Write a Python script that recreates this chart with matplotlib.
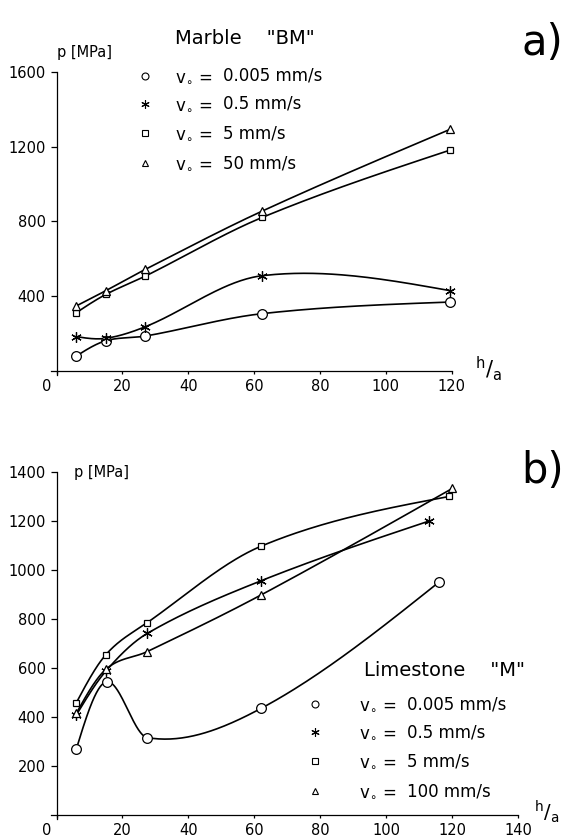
import numpy as np
import matplotlib
matplotlib.use("Agg")
import matplotlib.pyplot as plt
from matplotlib.lines import Line2D

# ---------------- data ----------------
# panel a) Marble "BM"
top_x = [6, 15, 27, 62.5, 119.5]
top_p_0005 = [80, 162, 187, 307, 369]
top_p_05 = [184, 175, 237, 510, 430]
top_p_5 = [312, 410, 508, 822, 1182]
top_p_50 = [348, 430, 544, 856, 1293]
top_speeds = ["0.005 mm/s", "0.5 mm/s", "5 mm/s", "50 mm/s"]

# panel b) Limestone "M"
bot_x_0005 = [6, 15.2, 27.5, 62, 116]
bot_p_0005 = [269, 544, 316, 435, 951]
bot_x_05 = [6, 15, 27.5, 62, 113]
bot_p_05 = [408, 588, 741, 956, 1200]
bot_x_5 = [6, 15, 27.5, 62, 119]
bot_p_5 = [458, 655, 785, 1097, 1300]
bot_x_100 = [6, 15, 27.5, 62, 120]
bot_p_100 = [415, 595, 667, 898, 1333]
bot_speeds = ["0.005 mm/s", "0.5 mm/s", "5 mm/s", "100 mm/s"]

top_xticks = [0, 20, 40, 60, 80, 100, 120]
top_yticks = [400, 800, 1200, 1600]
bot_xticks = [0, 20, 40, 60, 80, 100, 120, 140]
bot_yticks = [200, 400, 600, 800, 1000, 1200, 1400]

plt.rcParams["font.family"] = ["DejaVu Sans"]
plt.rcParams["mathtext.default"] = "regular"

W, H = 563, 838
fig = plt.figure(figsize=(W / 100, H / 100), dpi=100)
fig.patch.set_facecolor("white")


def fx(x):
    return x / W


def fy(y):
    return 1 - y / H


def ftext(x, y, s, **kw):
    kw.setdefault("va", "center")
    kw.setdefault("ha", "left")
    return fig.text(fx(x), fy(y), s, **kw)


def smooth_curve(x, y, n=60):
    """Piecewise cubic Hermite curve with Catmull-Rom type tangents."""
    x = np.asarray(x, float)
    y = np.asarray(y, float)
    m = len(x)
    sec = np.diff(y) / np.diff(x)
    t = np.zeros(m)
    for i in range(1, m - 1):
        t[i] = (y[i + 1] - y[i - 1]) / (x[i + 1] - x[i - 1])
    t[0] = (3 * sec[0] - t[1]) / 2
    t[-1] = (3 * sec[-1] - t[-2]) / 2
    xs_all, ys_all = [], []
    for i in range(m - 1):
        h = x[i + 1] - x[i]
        u = np.linspace(0, 1, n)
        h00 = 2 * u ** 3 - 3 * u ** 2 + 1
        h10 = u ** 3 - 2 * u ** 2 + u
        h01 = -2 * u ** 3 + 3 * u ** 2
        h11 = u ** 3 - u ** 2
        xs_all.append(x[i] + u * h)
        ys_all.append(h00 * y[i] + h10 * h * t[i] + h01 * y[i + 1] + h11 * h * t[i + 1])
    return np.concatenate(xs_all), np.concatenate(ys_all)


ASTER = (6, 2, 0)
styles = [
    dict(marker="o", ms=7, mfc="white"),
    dict(marker=ASTER, ms=7.5),
    dict(marker="s", ms=5, mfc="white"),
    dict(marker="^", ms=5.5, mfc="white"),
]
leg_styles = [
    dict(marker="o", ms=5, mfc="white"),
    dict(marker=ASTER, ms=6),
    dict(marker="s", ms=4, mfc="white"),
    dict(marker="^", ms=4.5, mfc="white"),
]

LW = 1.2
FS_TICK = 10.5
HA_LABEL = r"$\mathregular{^h/_a}$"


def setup_axes(ax, xmax, ymax, xticks, yticks):
    ax.set_xlim(0, xmax)
    ax.set_ylim(0, ymax)
    for s in ("top", "right"):
        ax.spines[s].set_visible(False)
    for s in ("left", "bottom"):
        ax.spines[s].set_linewidth(0.9)
        ax.spines[s].set_color("black")
    ax.spines["bottom"].set_bounds(-1.8, xmax)
    ax.spines["left"].set_bounds(-ymax * 0.0125, ymax)
    ax.set_xticks(xticks)
    ax.set_xticklabels([""] + [str(t) for t in xticks[1:]])
    ax.set_yticks(yticks)
    ax.set_yticklabels([str(t) for t in yticks])
    ax.tick_params(axis="x", direction="out", length=2.5, width=0.9, pad=3,
                   labelsize=FS_TICK)
    ax.tick_params(axis="y", direction="out", length=4.3, width=0.9, pad=3.5,
                   labelsize=FS_TICK)
    ax.patch.set_alpha(0)


def draw_series(ax, xs, ys, st):
    sx, sy = smooth_curve(xs, ys)
    ax.plot(sx, sy, color="black", lw=LW, zorder=2, clip_on=False)
    ax.plot(xs, ys, ls="none", color="black", mec="black", mew=0.9,
            zorder=3, clip_on=False, **st)


# ---------------- panel a ----------------
ax1 = fig.add_axes([fx(56.5), fy(371), (451.7 - 56.5) / W, (371 - 72) / H])
setup_axes(ax1, 120, 1600, top_xticks, top_yticks)
for ys, st in zip([top_p_0005, top_p_05, top_p_5, top_p_50], styles):
    draw_series(ax1, top_x, ys, st)

ftext(46.5, 386, "0", fontsize=FS_TICK, ha="center")
ftext(57, 52, "p [MPa]", fontsize=10.5)
ftext(175, 39, 'Marble    "BM"', fontsize=14)
ftext(521, 55, "a)", fontsize=30, va="baseline")
ftext(475, 369, HA_LABEL, fontsize=15)

for yy, lab, st in zip([76, 104, 133, 163], top_speeds, leg_styles):
    fig.add_artist(Line2D([fx(145)], [fy(yy)], transform=fig.transFigure,
                          ls="none", color="black", mec="black", mew=0.8, **st))
    ftext(175, yy, r"$\mathregular{v_{\circ}}$ =", fontsize=12)
    ftext(223, yy, lab, fontsize=12)

# ---------------- panel b ----------------
ax2 = fig.add_axes([fx(56.5), fy(815), (518.3 - 56.5) / W, (815 - 472) / H])
setup_axes(ax2, 140, 1400, bot_xticks, bot_yticks)
for xs, ys, st in zip([bot_x_0005, bot_x_05, bot_x_5, bot_x_100],
                      [bot_p_0005, bot_p_05, bot_p_5, bot_p_100], styles):
    draw_series(ax2, xs, ys, st)

ftext(46.5, 830, "0", fontsize=FS_TICK, ha="center")
ftext(74, 472, "p [MPa]", fontsize=10.5)
ftext(364, 670, 'Limestone    "M"', fontsize=14)
ftext(521, 483, "b)", fontsize=30, va="baseline")
ftext(534, 812, HA_LABEL, fontsize=14)

for yy, lab, st in zip([704, 732, 761, 791], bot_speeds, leg_styles):
    fig.add_artist(Line2D([fx(315)], [fy(yy)], transform=fig.transFigure,
                          ls="none", color="black", mec="black", mew=0.8, **st))
    ftext(359, yy, r"$\mathregular{v_{\circ}}$ =", fontsize=12)
    ftext(407, yy, lab, fontsize=12)

fig.savefig("out.png", dpi=100, facecolor="white")
